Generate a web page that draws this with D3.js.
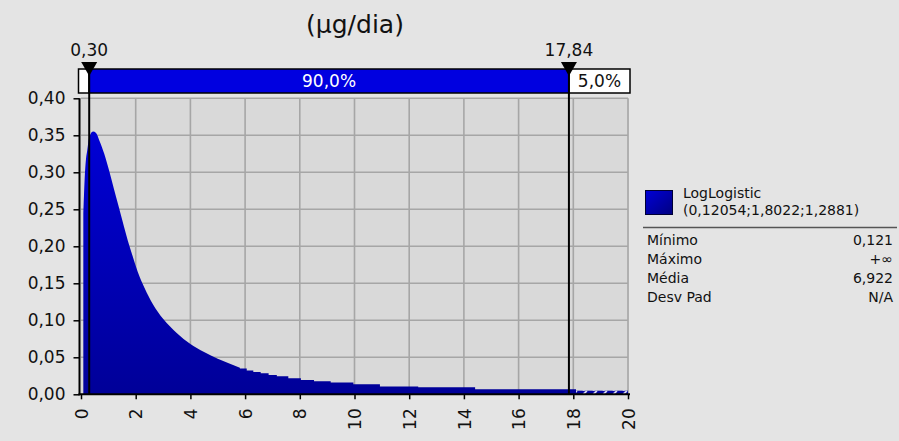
<!DOCTYPE html>
<html><head><meta charset="utf-8">
<script src="https://cdn.jsdelivr.net/npm/d3@7/dist/d3.min.js"></script>
<style>
html,body{margin:0;padding:0;background:#e4e4e4;}
svg{display:block;font-family:"DejaVu Sans",Verdana,sans-serif;}
</style></head>
<body><svg id="chart" width="899" height="441"></svg>
<script>
// ---- data ----
const title = "(µg/dia)";
const xTicks = [0,2,4,6,8,10,12,14,16,18,20];
const yTicks = [0,0.05,0.10,0.15,0.20,0.25,0.30,0.35,0.40];
// smooth part of density
const curveX = [0.085,0.11,0.146,0.18,0.23,0.28,0.355,0.44,0.55,0.67,0.85,1.03,1.20,1.36,1.52,1.71,1.86,2.07,2.32,2.64,3.0,3.5,4.0,4.5,5.0,5.4,5.81];
const curveY = [0.245,0.27,0.30,0.317,0.33,0.344,0.352,0.355,0.353,0.343,0.325,0.302,0.278,0.256,0.234,0.208,0.190,0.166,0.144,0.121,0.102,0.083,0.068,0.057,0.048,0.042,0.036];
// stepped tail of density
const stepEdges = [5.81,6.06,6.30,6.57,6.86,7.16,7.58,8.04,8.52,9.13,9.96,10.93,12.33,14.41,18.1];
const stepHeights = [0.035,0.032,0.030,0.0284,0.026,0.0245,0.0216,0.0193,0.0178,0.0160,0.0137,0.0106,0.0095,0.0068];
// hatched tail beyond plotted range
const tailRange = [18.1, 20];
const tailHeight = 0.0049;
// markers and bands
const markers = [0.30, 17.84];
const markerLabels = ["0,30", "17,84"];
const bandLabels = ["", "90,0%", "5,0%"];
// legend
const legendName = "LogLogistic";
const legendParams = "(0,12054;1,8022;1,2881)";
const statNames = ["Mínimo","Máximo","Média","Desv Pad"];
const statValues = ["0,121","+∞","6,922","N/A"];

// ---- drawing ----
const svg = d3.select("#chart");
const W = 899, H = 441;
svg.append("rect").attr("width",W).attr("height",H).attr("fill","#e4e4e4");

const x = d3.scaleLinear().domain([0,20]).range([81,628]);
const y = d3.scaleLinear().domain([0,0.4]).range([394.3,98.3]);
const fmt = d => d.toFixed(2).replace(".", ",");

const defs = svg.append("defs");
const g1 = defs.append("linearGradient").attr("id","dens").attr("gradientUnits","userSpaceOnUse")
  .attr("x1",0).attr("y1",y(0.36)).attr("x2",0).attr("y2",y(0));
g1.append("stop").attr("offset","0%").attr("stop-color","#0000d6");
g1.append("stop").attr("offset","100%").attr("stop-color","#000098");
const g2 = defs.append("linearGradient").attr("id","leg").attr("x1",0).attr("y1",0).attr("x2",1).attr("y2",1);
g2.append("stop").attr("offset","0%").attr("stop-color","#0000d8");
g2.append("stop").attr("offset","100%").attr("stop-color","#000080");
const pat = defs.append("pattern").attr("id","hatch").attr("patternUnits","userSpaceOnUse")
  .attr("width",10).attr("height",4).attr("x",0).attr("y",y(tailHeight));
pat.append("rect").attr("width",10).attr("height",4).attr("fill","#0000a0");
pat.append("line").attr("x1",3).attr("y1",4).attr("x2",7).attr("y2",0)
  .attr("stroke","#ffffff").attr("stroke-width",1.6);

// plot background
svg.append("rect").attr("x",x(0)-1).attr("y",y(0.4)).attr("width",x(20)-x(0)+2).attr("height",y(0)-y(0.4))
  .attr("fill","#d9d9d9");

// grid
const grid = svg.append("g").attr("stroke","#a6a6a6").attr("stroke-width",1.6);
xTicks.filter(d=>d>0).forEach(d=>{
  grid.append("line").attr("x1",x(d)).attr("x2",x(d)).attr("y1",y(0.4)).attr("y2",y(0));
});
yTicks.filter(d=>d>0).forEach(d=>{
  grid.append("line").attr("x1",x(0)).attr("x2",x(20)).attr("y1",y(d)).attr("y2",y(d));
});

// density: stepped tail first (slightly overlapping), then smooth part on top
const steps = stepHeights.map((h,i)=>[stepEdges[i],h]);
steps.push([stepEdges[stepEdges.length-1], stepHeights[stepHeights.length-1]]);
svg.append("path").datum(steps)
  .attr("d", d3.area().x((d,i)=>x(d[0]) - (i===0 ? 1.5 : 0)).y0(y(0)).y1(d=>y(d[1])).curve(d3.curveStepAfter))
  .attr("fill","url(#dens)");
const smooth = curveX.map((v,i)=>[v,curveY[i]]);
svg.append("path").datum(smooth)
  .attr("d", d3.area().x(d=>x(d[0])).y0(y(0)).y1(d=>y(d[1])).curve(d3.curveMonotoneX))
  .attr("fill","url(#dens)");
svg.append("rect").attr("x",x(tailRange[0])).attr("y",y(tailHeight))
  .attr("width",x(tailRange[1])-x(tailRange[0])).attr("height",y(0)-y(tailHeight))
  .attr("fill","url(#hatch)");

// axes
const yAxis = d3.axisLeft(y).tickValues(yTicks).tickSize(6).tickFormat(fmt);
const ya = svg.append("g").attr("transform","translate(79.5,0)").call(yAxis);
ya.select(".domain").attr("stroke","#000").attr("stroke-width",2).attr("d",`M0,${y(0.4)}V${y(0)+1}`);
ya.selectAll(".tick line").attr("stroke","#000").attr("stroke-width",1.5);
ya.selectAll(".tick text").attr("x",-14).attr("font-size",17).attr("fill","#111")
  .attr("font-family","DejaVu Sans, sans-serif");

const xAxis = d3.axisBottom(x).tickValues(xTicks).tickSize(5).tickFormat(d=>String(d));
const xa = svg.append("g").attr("transform",`translate(0,${y(0)})`).call(xAxis);
xa.select(".domain").attr("stroke","#000").attr("stroke-width",2).attr("d",`M78.5,0H${x(20)+2}`);
xa.selectAll(".tick line").attr("stroke","#000").attr("stroke-width",1.5);
xa.selectAll(".tick text")
  .attr("font-size",17).attr("fill","#111").attr("font-family","DejaVu Sans, sans-serif")
  .attr("text-anchor","end").attr("dy","0.36em").attr("y",0).attr("x",0)
  .attr("transform","translate(0,14) rotate(-90)");

// band bar on top
const barTop = 69, barH = 24;
const edges = [x(0)-2.5, x(markers[0]), x(markers[1]), x(20)+2];
const bandFill = ["#ffffff","#0000e0","#ffffff"];
for (let i=0;i<3;i++){
  svg.append("rect").attr("x",edges[i]).attr("y",barTop).attr("width",edges[i+1]-edges[i]).attr("height",barH)
    .attr("fill",bandFill[i]).attr("stroke","#000").attr("stroke-width",1.5);
  if (bandLabels[i]) svg.append("text").attr("x",(edges[i]+edges[i+1])/2).attr("y",barTop+barH/2)
    .attr("dy","0.36em").attr("text-anchor","middle").attr("font-size",17)
    .attr("fill", i===1 ? "#ffffff" : "#111").text(bandLabels[i]);
}

// markers
markers.forEach((m,i)=>{
  const mx = x(m);
  svg.append("line").attr("x1",mx).attr("x2",mx).attr("y1",barTop).attr("y2",y(0))
    .attr("stroke","#000").attr("stroke-width",2);
  svg.append("path").attr("d",`M${mx-8},62L${mx+8},62L${mx},76Z`).attr("fill","#000");
  svg.append("text").attr("x",mx).attr("y",56).attr("text-anchor","middle").attr("font-size",17)
    .attr("fill","#111").text(markerLabels[i]);
});

// title
svg.append("text").attr("x",355).attr("y",33).attr("text-anchor","middle").attr("font-size",25)
  .attr("fill","#111").text(title);

// legend
svg.append("rect").attr("x",645.5).attr("y",190.5).attr("width",27).attr("height",24)
  .attr("fill","url(#leg)").attr("stroke","#000033").attr("stroke-width",1);
svg.append("text").attr("x",683).attr("y",198).attr("font-size",14).attr("fill","#111").text(legendName);
svg.append("text").attr("x",683).attr("y",215).attr("font-size",14).attr("fill","#111").text(legendParams);
svg.append("line").attr("x1",643).attr("x2",897).attr("y1",227.5).attr("y2",227.5)
  .attr("stroke","#555").attr("stroke-width",1.5);
statNames.forEach((n,i)=>{
  const yy = 245 + i*19;
  svg.append("text").attr("x",647).attr("y",yy).attr("font-size",14).attr("fill","#111").text(n);
  svg.append("text").attr("x",893).attr("y",yy).attr("font-size",14).attr("fill","#111")
    .attr("text-anchor","end").text(statValues[i]);
});
</script></body></html>
